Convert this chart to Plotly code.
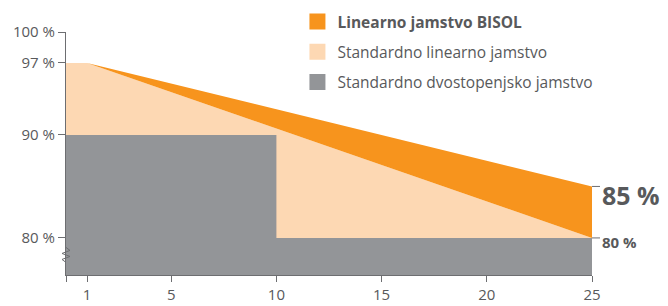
import plotly.graph_objects as go

# Data
years_start = 0
years_end = 25
bisol_x = [1, 25, 25]
bisol_y = [97, 85, 80]
std_linear_x = [0, 1, 25]
std_linear_y = [97, 97, 80]
two_step_x = [0, 10, 10, 25]
two_step_y = [90, 90, 80, 80]

y_tickvals = [80, 90, 97, 100]
y_ticktext = ["80 %", "90 %", "97 %", "100 %"]
x_tickvals = [1, 5, 10, 15, 20, 25]
x_ticktext = ["1", "5", "10", "15", "20", "25"]

names = ["<b>Linearno jamstvo BISOL</b>", "Standardno linearno jamstvo", "Standardno dvostopenjsko jamstvo"]
colors = ["#F7941D", "#FDD8B3", "#939598"]

FONT = "Open Sans"
TXT = "#58595B"
AXC = "#6D6E71"

fig = go.Figure()

# areas
fig.add_trace(go.Scatter(x=std_linear_x, y=std_linear_y, fill="tozeroy", mode="none",
                         fillcolor=colors[1], showlegend=False, hoverinfo="skip"))
fig.add_trace(go.Scatter(x=bisol_x, y=bisol_y, fill="toself", mode="none",
                         fillcolor=colors[0], showlegend=False, hoverinfo="skip"))
fig.add_trace(go.Scatter(x=two_step_x, y=two_step_y, fill="tozeroy", mode="none",
                         fillcolor=colors[2], showlegend=False, hoverinfo="skip"))

# legend entries
for i, (n, c) in enumerate(zip(names, colors)):
    fig.add_trace(go.Scatter(x=[None], y=[None], mode="markers", name=n,
                             legendgroup=f"g{i}", legendrank=i,
                             marker=dict(symbol="square", size=16, color=c)))

# right side ticks and labels
for val in [bisol_y[1], bisol_y[2]]:
    fig.add_shape(type="line", xref="paper", yref="y", xsizemode="pixel", xanchor=1,
                  x0=0, x1=8, y0=val, y1=val, line=dict(color=AXC, width=1))

fig.add_annotation(x=years_end, y=bisol_y[1], xref="x", yref="y", text="<b>85 %</b>",
                   showarrow=False, xanchor="left", yanchor="middle", xshift=8, yshift=-9,
                   font=dict(family=FONT, size=25, color=TXT))
fig.add_annotation(x=years_end, y=bisol_y[2], xref="x", yref="y", text="<b>80 %</b>",
                   showarrow=False, xanchor="left", yanchor="middle", xshift=8, yshift=-4,
                   font=dict(family=FONT, size=15, color=TXT))

# axis break zigzag
fig.add_shape(type="path", xref="paper", yref="y", xsizemode="pixel", ysizemode="pixel",
              xanchor=0, yanchor=78.3,
              path="M 0,8 L 4,5 L -4,2 L 4,-1 L -4,-4 L 0,-7",
              line=dict(color=AXC, width=1))

fig.update_xaxes(range=[years_start, years_end], tickvals=[0] + x_tickvals, ticktext=[""] + x_ticktext,
                 ticks="outside", ticklen=6, tickcolor=AXC, showline=True,
                 linecolor=AXC, linewidth=1, showgrid=False, zeroline=False,
                 automargin=False,
                 tickfont=dict(family=FONT, size=15, color=TXT))
fig.update_yaxes(range=[76.4, 100], tickvals=y_tickvals, ticktext=y_ticktext,
                 ticks="outside", ticklen=7, tickcolor=AXC, showline=True,
                 linecolor=AXC, linewidth=1, showgrid=False, zeroline=False,
                 automargin=False,
                 tickfont=dict(family=FONT, size=15, color=TXT))

fig.update_layout(
    width=668, height=306,
    margin=dict(l=66, r=76, t=32, b=31, autoexpand=False),
    paper_bgcolor="white", plot_bgcolor="white",
    font=dict(family=FONT, color=TXT),
    hovermode=False,
    legend=dict(x=0.44, y=1.111, xanchor="left", yanchor="top",
                bgcolor="rgba(0,0,0,0)", tracegroupgap=7,
                font=dict(family=FONT, size=15.5, color=TXT)),
)

fig.write_html("out.html", config={"displayModeBar": False},
               post_script="document.body.style.margin='0';document.body.style.overflow='hidden';")
